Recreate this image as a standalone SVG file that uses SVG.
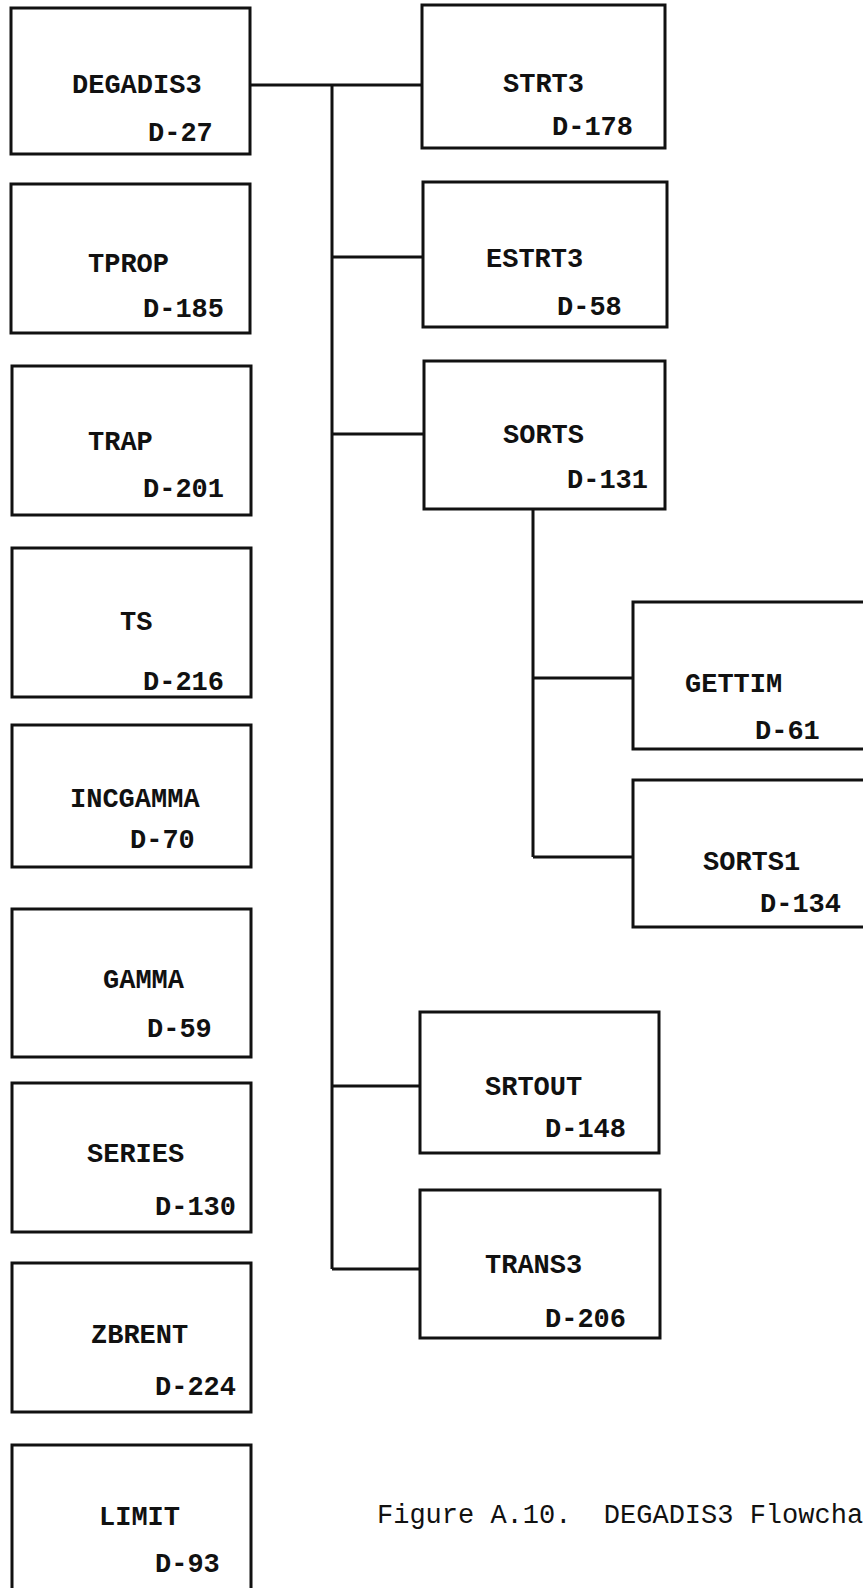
<svg xmlns="http://www.w3.org/2000/svg" width="863" height="1588" viewBox="0 0 863 1588">
<style>
.box{fill:#fff;stroke:#111;stroke-width:3}
.lbl{font-family:"Liberation Mono","Courier New",monospace;font-size:27px;font-weight:bold;fill:#111}
.cap{font-family:"Liberation Mono","Courier New",monospace;font-size:27px;fill:#111}
.con{fill:none;stroke:#111;stroke-width:3}
</style>
<rect width="863" height="1588" fill="#fff"/>
<g id="connectors">
<path class="con" d="M250,85 H422"/>
<path class="con" d="M332,85 V1269"/>
<path class="con" d="M332,257 H423"/>
<path class="con" d="M332,434 H424"/>
<path class="con" d="M332,1086 H420"/>
<path class="con" d="M332,1269 H420"/>
<path class="con" d="M533,509 V857"/>
<path class="con" d="M533,678 H633"/>
<path class="con" d="M533,857 H633"/>
</g>
<g id="DEGADIS3"><rect class="box" x="11" y="8" width="239" height="146"/><text class="lbl" x="72" y="93">DEGADIS3</text><text class="lbl" x="148" y="141">D-27</text></g>
<g id="TPROP"><rect class="box" x="11" y="184" width="239" height="149"/><text class="lbl" x="88" y="272">TPROP</text><text class="lbl" x="143" y="317">D-185</text></g>
<g id="TRAP"><rect class="box" x="12" y="366" width="239" height="149"/><text class="lbl" x="88" y="450">TRAP</text><text class="lbl" x="143" y="497">D-201</text></g>
<g id="TS"><rect class="box" x="12" y="548" width="239" height="149"/><text class="lbl" x="120" y="630">TS</text><text class="lbl" x="143" y="690">D-216</text></g>
<g id="INCGAMMA"><rect class="box" x="12" y="725" width="239" height="142"/><text class="lbl" x="70" y="807">INCGAMMA</text><text class="lbl" x="130" y="848">D-70</text></g>
<g id="GAMMA"><rect class="box" x="12" y="909" width="239" height="148"/><text class="lbl" x="103" y="988">GAMMA</text><text class="lbl" x="147" y="1037">D-59</text></g>
<g id="SERIES"><rect class="box" x="12" y="1083" width="239" height="149"/><text class="lbl" x="87" y="1162">SERIES</text><text class="lbl" x="155" y="1215">D-130</text></g>
<g id="ZBRENT"><rect class="box" x="12" y="1263" width="239" height="149"/><text class="lbl" x="91" y="1343">ZBRENT</text><text class="lbl" x="155" y="1395">D-224</text></g>
<g id="LIMIT"><rect class="box" x="12" y="1445" width="239" height="160"/><text class="lbl" x="99" y="1525">LIMIT</text><text class="lbl" x="155" y="1572">D-93</text></g>
<g id="STRT3"><rect class="box" x="422" y="5" width="243" height="143"/><text class="lbl" x="503" y="92">STRT3</text><text class="lbl" x="552" y="135">D-178</text></g>
<g id="ESTRT3"><rect class="box" x="423" y="182" width="244" height="145"/><text class="lbl" x="486" y="267">ESTRT3</text><text class="lbl" x="557" y="315">D-58</text></g>
<g id="SORTS"><rect class="box" x="424" y="361" width="241" height="148"/><text class="lbl" x="503" y="443">SORTS</text><text class="lbl" x="567" y="488">D-131</text></g>
<g id="GETTIM"><rect class="box" x="633" y="602" width="250" height="147"/><text class="lbl" x="685" y="692">GETTIM</text><text class="lbl" x="755" y="739">D-61</text></g>
<g id="SORTS1"><rect class="box" x="633" y="780" width="250" height="147"/><text class="lbl" x="703" y="870">SORTS1</text><text class="lbl" x="760" y="912">D-134</text></g>
<g id="SRTOUT"><rect class="box" x="420" y="1012" width="239" height="141"/><text class="lbl" x="485" y="1095">SRTOUT</text><text class="lbl" x="545" y="1137">D-148</text></g>
<g id="TRANS3"><rect class="box" x="420" y="1190" width="240" height="148"/><text class="lbl" x="485" y="1273">TRANS3</text><text class="lbl" x="545" y="1327">D-206</text></g>
<text class="cap" x="377" y="1523" xml:space="preserve">Figure A.10.  DEGADIS3 Flowcha</text>
</svg>
